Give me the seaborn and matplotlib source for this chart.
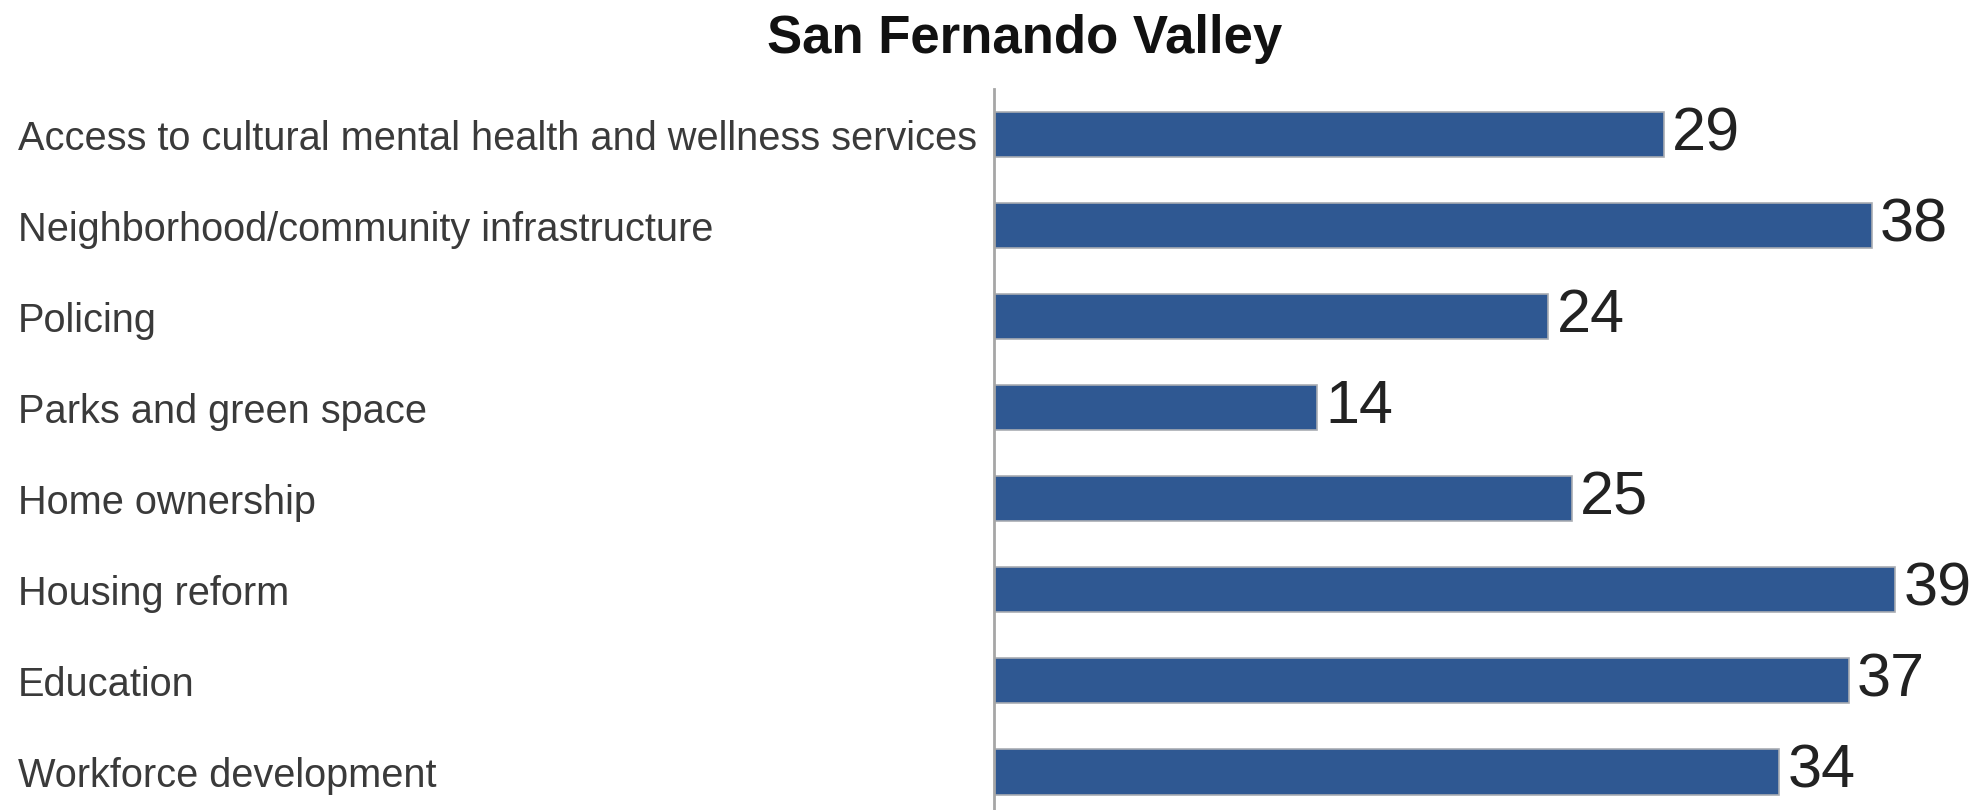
import pandas as pd
import seaborn as sns
import matplotlib.pyplot as plt

# data
categories = ['Access to cultural mental health and wellness services',
              'Neighborhood/community infrastructure',
              'Policing',
              'Parks and green space',
              'Home ownership',
              'Housing reform',
              'Education',
              'Workforce development']
values = [29, 38, 24, 14, 25, 39, 37, 34]

df = pd.DataFrame({'category': categories, 'value': values})

sns.set_style('white')
plt.rcParams['font.family'] = ['Liberation Sans', 'DejaVu Sans']

fig = plt.figure(figsize=(19.85, 8.10), dpi=100)
ax = fig.add_axes([0.5008, 0.0, 0.4992, 1 - 89 / 810])

sns.barplot(data=df, x='value', y='category', orient='h',
            color='#2f5892', width=0.5, saturation=1,
            edgecolor='#a9adb3', linewidth=1.2, ax=ax)

ax.set_xlim(0, 42.9)
ax.set_ylim(7.42, -0.5)
ax.set_xlabel('')
ax.set_ylabel('')
ax.set_xticks([])

for s in ['top', 'right', 'bottom']:
    ax.spines[s].set_visible(False)
ax.spines['left'].set_color('#a6a6a6')
ax.spines['left'].set_linewidth(2)

# category labels left aligned at the figure edge
ax.tick_params(axis='y', length=0, pad=703, labelsize=28.6, labelcolor='#3a3a3a')
for lab in ax.get_yticklabels():
    lab.set_horizontalalignment('left')

# value labels (narrow font as in the original)
ax.bar_label(ax.containers[0], padding=6, fontsize=44, color='#222222',
             family=['Liberation Sans Narrow', 'DejaVu Sans Condensed', 'Liberation Sans'])

fig.text(0.516, 1 - 53 / 810, 'San Fernando Valley', ha='center', va='baseline',
         fontsize=38, fontweight='bold', color='#111111')

fig.savefig('out.png', dpi=100)
